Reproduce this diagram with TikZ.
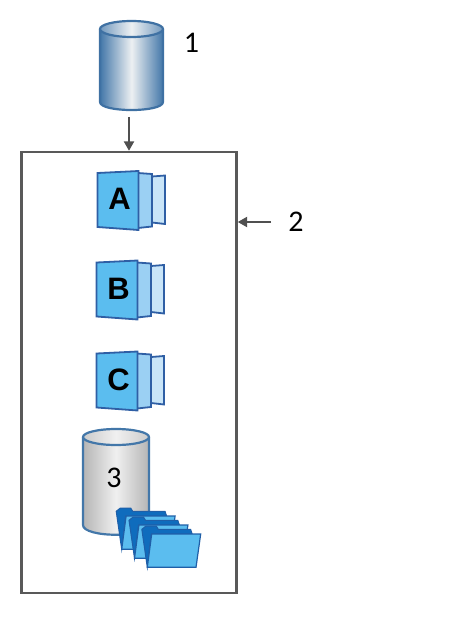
\documentclass[tikz,border=0pt]{standalone}
\usepackage{fontspec}
\setmainfont{Carlito}
\newfontfamily\arialb{Liberation Sans}
\usetikzlibrary{arrows.meta}
\definecolor{cylblue}{HTML}{3F71A3}
\definecolor{cylmid}{HTML}{4377A9}
\definecolor{cylpale}{HTML}{EDF0F2}
\definecolor{boxgray}{HTML}{595959}
\definecolor{arrgray}{HTML}{505050}
\definecolor{pageedge}{HTML}{2F5FA5}
\definecolor{pagea}{HTML}{5BBDEF}
\definecolor{pageb}{HTML}{9BD0F3}
\definecolor{pagec}{HTML}{C9E5F8}
\definecolor{folddark}{HTML}{0F6CBD}
\definecolor{foldedge}{HTML}{1F5FA8}
\definecolor{grayside}{HTML}{B5B5B5}
\definecolor{graymid}{HTML}{F0F0F0}
\tikzset{
  x=1pt,y=-1pt,
  frame/.style={draw=boxgray,line width=2.4pt,minimum width=215pt,minimum height=441pt,inner sep=0pt},
  conn/.style={draw=arrgray,line width=2.2pt,-{Triangle[length=9.5pt,width=10pt]}},
  numlabel/.style={font=\fontsize{30}{30}\selectfont,text=black,inner sep=0pt},
  letter/.style={font=\arialb\bfseries\fontsize{31}{31}\selectfont,text=black,inner sep=0pt},
  pgfront/.style={draw=pageedge,line width=1.8pt,fill=pagea},
  pgmid/.style={draw=pageedge,line width=1.8pt,fill=pageb},
  pgback/.style={draw=pageedge,line width=1.8pt,fill=pagec},
  folderback/.style={draw=foldedge,line width=1pt,fill=folddark},
  folderfront/.style={draw=foldedge,line width=1.2pt,fill=pagea},
}
\newcommand{\pagestack}[4]{% x, y shift, letter, name
  \begin{scope}[shift={(#1,#2)}]
    \draw[pgback] (152,176.5) -- (165,175.5) -- (165,224) -- (152,222.5) -- cycle;
    \draw[pgmid] (138,173) -- (152,174) -- (152,226.5) -- (138,228) -- cycle;
    \draw[pgfront] (97.5,173) -- (138.5,171) -- (138.5,230) -- (97.5,227) -- cycle;
    \node[letter] (#4) at (119.5,199) {#3};
  \end{scope}
}
\newcommand{\folder}[2]{%
  \begin{scope}[shift={(#1,#2)}]
    \draw[folderback] (-5.5,-38) -- (-1.3,-41.3) -- (9,-41.3) -- (11,-38) -- (43.3,-38) -- (45,-33) -- (4,-33) -- (0,0) -- cycle;
    \draw[folderfront] (4.4,-33.3) -- (53.4,-33.3) -- (48.7,0) -- (0,0) -- cycle;
  \end{scope}
}
\begin{document}
\begin{tikzpicture}
\useasboundingbox (0,0) rectangle (450,617);
% container
\node[frame] (box) at (129,372.5) {};
% blue cylinder
\path[left color=cylmid,right color=cylmid,middle color=cylpale]
  (100,29) -- (100,102) .. controls (100,112.7) and (163,112.7) .. (163,102) -- (163,29) -- cycle;
\draw[cylblue,line width=2.2pt]
  (100,29) -- (100,102) .. controls (100,112.7) and (163,112.7) .. (163,102) -- (163,29);
\draw[cylblue,line width=2.2pt,left color=cylmid!75!white,right color=cylmid!75!white,middle color=cylpale]
  (131.5,29) ellipse [x radius=31.5,y radius=8];
\node[inner sep=0pt,minimum width=63pt,minimum height=90pt] (db) at (131.5,65.5) {};
\node[numlabel] (n1) at (191.5,43) {1};
\coordinate (a1) at (129,117);
\draw[conn] (a1) -- (a1 |- box.north);
% arrow 2
\node[numlabel] (n2) at (296,222) {2};
\coordinate (a2) at (271,222);
\draw[conn] (a2) -- (a2 -| box.east);
% page stacks
\pagestack{0}{0}{A}{la}
\pagestack{-1}{89.5}{B}{lb}
\pagestack{-1}{180.5}{C}{lc}
% gray cylinder
\path[left color=grayside,right color=grayside,middle color=graymid]
  (83,437) -- (83,525) .. controls (83,538) and (149,538) .. (149,525) -- (149,437) -- cycle;
\draw[cylmid,line width=2.2pt]
  (83,437) -- (83,525) .. controls (83,538) and (149,538) .. (149,525) -- (149,437);
\draw[cylmid,line width=2.2pt,left color=grayside!70!white,right color=grayside!70!white,middle color=graymid]
  (116,437) ellipse [x radius=33,y radius=8];
\node[numlabel] (n3) at (114,478) {3};
% folders
\folder{121.7}{549.3}
\folder{134.5}{558.3}
\folder{147.3}{567.3}
\end{tikzpicture}
\end{document}
